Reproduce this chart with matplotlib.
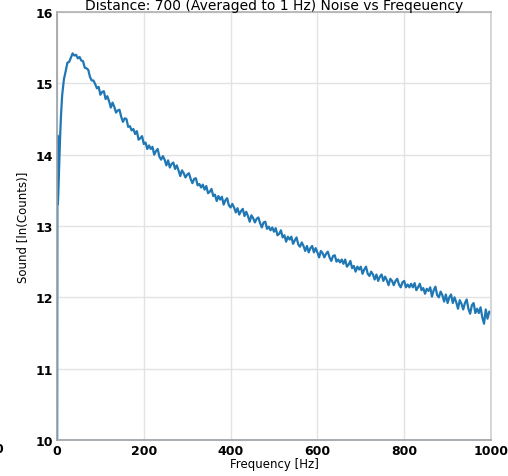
import numpy as np
import matplotlib
matplotlib.use("Agg")
import matplotlib.pyplot as plt

# first few bins (1 Hz)
freq_start = [0, 1, 2, 3, 4, 5, 6, 7, 8, 9, 10, 11, 12]
sound_start = [8.0, 14.27, 13.31, 13.45, 13.65, 13.85, 14.05, 14.22, 14.38, 14.52, 14.64, 14.74, 14.84]

# rest of the spectrum, read every 4 Hz from 16 to 1000 Hz
freq_body = np.arange(16, 1001, 4)
sound_body = [
    15.06, 15.17, 15.29, 15.30, 15.36, 15.42, 15.39, 15.40, 15.35, 15.37,
    15.32, 15.31, 15.22, 15.21, 15.19, 15.09, 15.04, 15.04, 14.99, 14.93,
    14.95, 14.84, 14.88, 14.89, 14.78, 14.82, 14.75, 14.66, 14.73, 14.67,
    14.59, 14.62, 14.63, 14.53, 14.46, 14.51, 14.50, 14.39, 14.40, 14.34,
    14.36, 14.29, 14.33, 14.21, 14.23, 14.26, 14.15, 14.17, 14.08, 14.13,
    14.08, 14.11, 14.00, 14.05, 14.08, 13.97, 13.93, 13.98, 13.93, 13.85,
    13.92, 13.82, 13.87, 13.89, 13.80, 13.85, 13.78, 13.70, 13.78, 13.74,
    13.68, 13.72, 13.74, 13.66, 13.60, 13.66, 13.67, 13.57, 13.59, 13.54,
    13.58, 13.51, 13.56, 13.46, 13.48, 13.52, 13.42, 13.44, 13.35, 13.42,
    13.37, 13.41, 13.30, 13.36, 13.39, 13.29, 13.26, 13.31, 13.26, 13.19,
    13.25, 13.16, 13.21, 13.24, 13.14, 13.20, 13.14, 13.06, 13.15, 13.11,
    13.05, 13.10, 13.12, 13.04, 12.98, 13.05, 13.06, 12.96, 12.99, 12.94,
    12.98, 12.92, 12.97, 12.87, 12.89, 12.94, 12.84, 12.87, 12.78, 12.85,
    12.81, 12.85, 12.75, 12.80, 12.84, 12.74, 12.71, 12.77, 12.72, 12.65,
    12.72, 12.63, 12.69, 12.72, 12.63, 12.69, 12.63, 12.56, 12.65, 12.62,
    12.56, 12.61, 12.64, 12.56, 12.51, 12.58, 12.59, 12.50, 12.53, 12.49,
    12.53, 12.47, 12.53, 12.43, 12.46, 12.51, 12.41, 12.44, 12.36, 12.43,
    12.39, 12.43, 12.33, 12.39, 12.43, 12.33, 12.30, 12.36, 12.32, 12.25,
    12.32, 12.23, 12.29, 12.32, 12.23, 12.29, 12.24, 12.17, 12.26, 12.23,
    12.17, 12.23, 12.26, 12.18, 12.14, 12.21, 12.23, 12.14, 12.18, 12.14,
    12.19, 12.14, 12.20, 12.10, 12.14, 12.19, 12.10, 12.13, 12.05, 12.12,
    12.09, 12.14, 12.01, 12.10, 12.15, 12.03, 12.00, 12.08, 12.03, 11.94,
    12.04, 11.92, 12.00, 12.04, 11.92, 12.00, 11.93, 11.84, 11.96, 11.91,
    11.83, 11.92, 11.97, 11.84, 11.77, 11.89, 11.92, 11.78, 11.84, 11.78,
    11.86, 11.72, 11.63, 11.83, 11.70, 11.80, 11.78,
]

x_ticks = [0, 200, 400, 600, 800, 1000]
y_ticks = [10, 11, 12, 13, 14, 15, 16]

freq = np.concatenate([freq_start, freq_body])
sound = np.concatenate([sound_start, sound_body])

fig = plt.figure(figsize=(5.08, 4.77), dpi=100)
ax = fig.add_axes([0.1122, 0.0755, 0.8543, 0.8972])

ax.plot(freq, sound, color='#1f77b4', lw=1.6)

ax.set_xlim(0, 1000)
ax.set_ylim(10, 16)
ax.set_xticks(x_ticks)
ax.set_yticks(y_ticks)
ax.grid(True, color='#e3e3e3', lw=1)
ax.set_axisbelow(True)

ax.tick_params(length=0, labelsize=9, pad=3)
for lbl in ax.get_xticklabels() + ax.get_yticklabels():
    lbl.set_fontweight('bold')

ax.spines['left'].set_color('#9aa0a6')
ax.spines['bottom'].set_color('#9aa0a6')
ax.spines['top'].set_color('#b0b0b0')
ax.spines['right'].set_color('#d0d0d0')
for s in ax.spines.values():
    s.set_linewidth(1.2)

ax.set_xlabel('Frequency [Hz]', fontsize=8.5, labelpad=0)
ax.set_ylabel('Sound [ln(Counts)]', fontsize=8.5, labelpad=4)
ax.set_title('Distance: 700 (Averaged to 1 Hz) Noise vs Freqeuency', fontsize=10, pad=1)

# leftover label from a neighbouring panel, cut by the crop
fig.text(-0.002, 0.0587, '0', fontsize=9, fontweight='bold', ha='center', va='center')

fig.savefig('out.png', dpi=100)
